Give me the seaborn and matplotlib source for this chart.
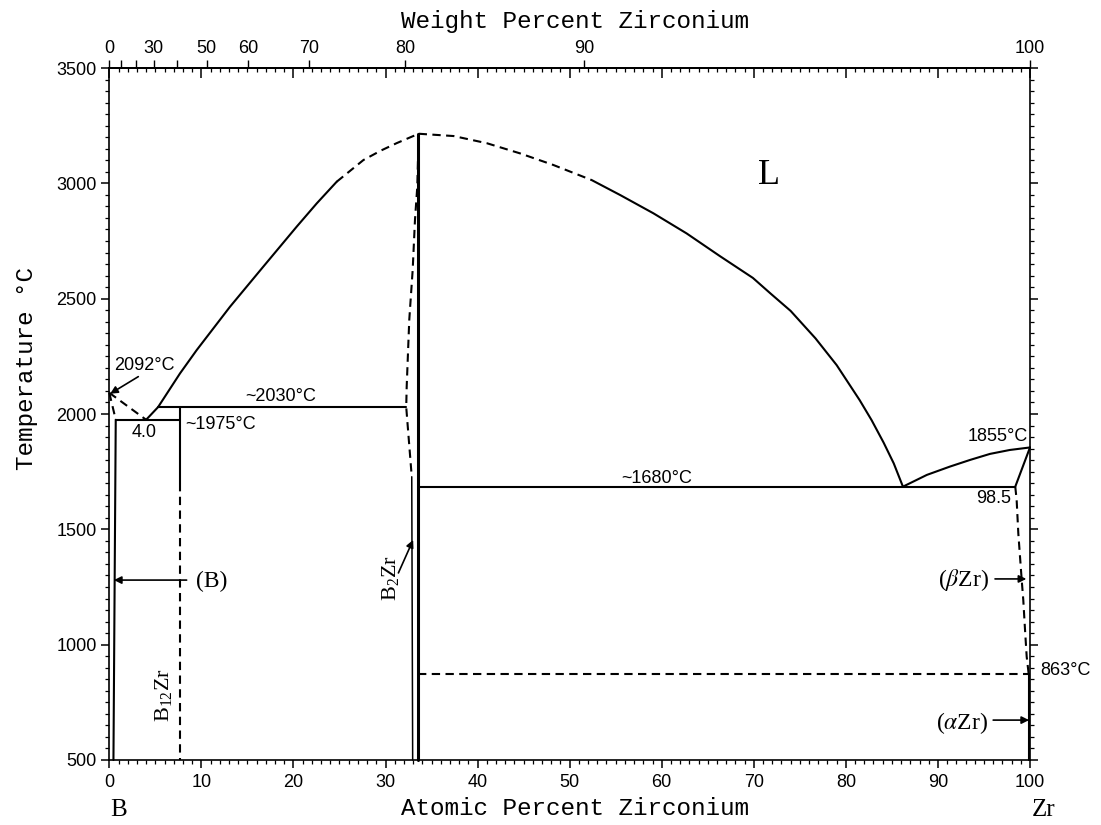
import numpy as np
import matplotlib
matplotlib.use("Agg")
import matplotlib.pyplot as plt
from matplotlib.ticker import MultipleLocator, NullFormatter
import seaborn as sns

# ---------------- data (x = at.% Zr, T = deg C) ----------------
M_B, M_ZR = 10.811, 91.224

wt_ticks = [0, 10, 20, 30, 40, 50, 60, 70, 80, 90, 100]
wt_labels = ["0", "", "", "30", "", "50", "60", "70", "80", "90", "100"]
y_ticks = [500, 1000, 1500, 2000, 2500, 3000, 3500]
x_ticks = [0, 10, 20, 30, 40, 50, 60, 70, 80, 90, 100]

# B-rich side
liqB_x = [0.0, 4.0];            liqB_T = [2092, 1975]          # dashed
solB_x = [0.0, 0.7];            solB_T = [2092, 1975]          # dashed
solvB_x = [0.7, 0.45];          solvB_T = [1975, 500]
eut1_x = [0.7, 7.69];           eut1_T = [1975, 1975]
peri_x = [5.3, 32.25];          peri_T = [2030, 2030]
b12_solid_x = [7.69, 7.69];     b12_solid_T = [2030, 1700]
b12_dash_x = [7.69, 7.69];      b12_dash_T = [1700, 500]

# liquidus, B side of B2Zr
liq1_x = [4.0, 5.3, 7.68, 9.49, 13.11, 16.73, 20.35, 22.53, 24.7]
liq1_T = [1975, 2030, 2176, 2277, 2465, 2639, 2812, 2913, 3007]
liq1d_x = [24.7, 27.6, 29.5, 31.2, 33.6]
liq1d_T = [3007, 3101, 3142, 3174, 3215]

# liquidus, Zr side of B2Zr
liq2d_x = [33.6, 37.4, 41.0, 44.6, 48.2, 52.4]
liq2d_T = [3215, 3205, 3174, 3130, 3080, 3014]
liq2_x = [52.4, 55.5, 59.1, 62.7, 66.3, 69.9, 71.8, 74.0, 76.7, 79.0,
          81.5, 82.8, 84.1, 85.2, 86.2]
liq2_T = [3014, 2949, 2870, 2783, 2685, 2590, 2523, 2447, 2328, 2212,
          2060, 1973, 1876, 1786, 1685]

# B2Zr boundaries
b2l_dash_x = [33.6, 33.45, 33.2, 32.95, 32.58, 32.3, 32.25, 32.85]
b2l_dash_T = [3215, 2985, 2841, 2624, 2408, 2118, 2030, 1728]
b2l_x = [32.85, 32.95];         b2l_T = [1728, 500]
b2r_x = [33.55, 33.55];         b2r_T = [3215, 500]

# Zr-rich side
eut2_x = [33.55, 98.4];         eut2_T = [1685, 1685]
liqZr_x = [86.2, 88.8, 91.3, 93.5, 95.65, 97.8, 100.0]
liqZr_T = [1685, 1736, 1772, 1801, 1827, 1844, 1855]
solZr_x = [100.0, 98.4];        solZr_T = [1855, 1685]
solvZr_x = [98.4, 98.55, 98.73, 99.1, 99.27, 99.46, 99.64, 99.85]
solvZr_T = [1685, 1627, 1483, 1280, 1194, 1064, 948, 875]
eutd_x = [33.55, 100.0];        eutd_T = [875, 875]
aZr_x = [99.92, 99.92];         aZr_T = [875, 500]

# ---------------- styling ----------------
sns.set_theme(style="white")
plt.rcParams["font.family"] = ["Liberation Sans", "DejaVu Sans"]
plt.rcParams["mathtext.fontset"] = "stix"
plt.rcParams["mathtext.default"] = "regular"

W, H = 1101, 825
fig = plt.figure(figsize=(W / 100, H / 100), dpi=100)
x0, x1, ytop, ybot = 109.3, 1030.0, 68.0, 760.0
ax = fig.add_axes([x0 / W, 1 - ybot / H, (x1 - x0) / W, (ybot - ytop) / H])
ax.set_xlim(0, 100)
ax.set_ylim(500, 3500)

DASH = (0, (4, 2.6))


def seg(x, y, dashed=False, lw=1.5):
    sns.lineplot(x=x, y=y, ax=ax, color="black", lw=lw, sort=False,
                 estimator=None, legend=False,
                 linestyle=DASH if dashed else "-", clip_on=False)


seg(liqB_x, liqB_T, True)
seg(solB_x, solB_T, True)
seg(solvB_x, solvB_T)
seg(eut1_x, eut1_T)
seg(peri_x, peri_T)
seg(b12_solid_x, b12_solid_T)
seg(b12_dash_x, b12_dash_T, True)
seg(liq1_x, liq1_T)
seg(liq1d_x, liq1d_T, True)
seg(liq2d_x, liq2d_T, True)
seg(liq2_x, liq2_T)
seg(b2l_dash_x, b2l_dash_T, True)
seg(b2l_x, b2l_T, lw=1.1)
seg(b2r_x, b2r_T, lw=2.2)
seg(eut2_x, eut2_T)
seg(liqZr_x, liqZr_T)
seg(solZr_x, solZr_T)
seg(solvZr_x, solvZr_T, True)
seg(eutd_x, eutd_T, True)
seg(aZr_x, aZr_T)

# ---------------- axes / ticks ----------------
for s in ax.spines.values():
    s.set_color("black")
    s.set_linewidth(1.2)

ax.set_xticks(x_ticks)
ax.set_yticks(y_ticks)
ax.xaxis.set_minor_locator(MultipleLocator(1))
ax.yaxis.set_minor_locator(MultipleLocator(50))
ax.tick_params(axis="both", which="major", direction="out", length=6, width=1.1,
               color="black", labelsize=13, labelcolor="black",
               left=True, right=True, bottom=True, top=False, pad=3)
ax.tick_params(axis="both", which="minor", direction="out", length=3, width=0.9,
               color="black", left=True, right=True, bottom=True, top=False)
ax.tick_params(axis="x", pad=4)

# top: atomic-percent ticks pointing inward
sec_at = ax.secondary_xaxis("top")
sec_at.set_xticks(x_ticks)
sec_at.xaxis.set_minor_locator(MultipleLocator(1))
sec_at.xaxis.set_major_formatter(NullFormatter())
sec_at.tick_params(which="major", direction="in", length=7, width=1.1, color="black")
sec_at.tick_params(which="minor", direction="in", length=3, width=0.9, color="black")
sec_at.spines["top"].set_linewidth(1.2)
sec_at.spines["top"].set_color("black")


def at2wt(x):
    x = np.asarray(x, dtype=float)
    den = x * M_ZR + (100 - x) * M_B
    with np.errstate(divide="ignore", invalid="ignore"):
        return np.where(den != 0, 100 * x * M_ZR / den, 0.0)


def wt2at(w):
    w = np.asarray(w, dtype=float)
    a = w / M_ZR
    b = (100 - w) / M_B
    with np.errstate(divide="ignore", invalid="ignore"):
        return np.where((a + b) != 0, 100 * a / (a + b), 0.0)


sec_wt = ax.secondary_xaxis("top", functions=(at2wt, wt2at))
sec_wt.set_xticks(wt_ticks, labels=wt_labels)
sec_wt.tick_params(which="major", direction="out", length=6, width=1.0,
                   color="black", labelsize=13, labelcolor="black", pad=2)
sec_wt.tick_params(which="minor", length=0)
sec_wt.spines["top"].set_linewidth(1.2)
sec_wt.spines["top"].set_color("black")

# ---------------- axis titles ----------------
LBL = dict(family=["Liberation Mono", "DejaVu Sans Mono"], fontsize=17.5, color="black")
fig.text(575 / W, 1 - 28 / H, "Weight Percent Zirconium", ha="center", va="baseline", **LBL)
fig.text(575 / W, 1 - 815 / H, "Atomic Percent Zirconium", ha="center", va="baseline", **LBL)
fig.text(27 / W, 1 - 368 / H, "Temperature °C", ha="center", va="center", rotation=90, **LBL)

SER = dict(family=["Liberation Serif", "DejaVu Serif"], color="black")
fig.text(118.3 / W, 1 - 816 / H, "B", ha="center", va="baseline", fontsize=18, **SER)
fig.text(1044 / W, 1 - 816 / H, "Zr", ha="center", va="baseline", fontsize=18, **SER)

# ---------------- annotations ----------------
NUM = dict(fontsize=13, color="black", family=["Liberation Sans", "DejaVu Sans"])
ax.text(3.77, 2212, "2092°C", ha="center", va="center", **NUM)
ax.text(18.6, 2074, "~2030°C", ha="center", va="center", **NUM)
ax.text(8.2, 1954, "~1975°C", ha="left", va="center", **NUM)
ax.text(3.77, 1918, "4.0", ha="center", va="center", **NUM)
ax.text(59.5, 1722, "~1680°C", ha="center", va="center", **NUM)
ax.text(96.5, 1902, "1855°C", ha="center", va="center", **NUM)
ax.text(96.1, 1635, "98.5", ha="center", va="center", **NUM)
ax.text(103.9, 887, "863°C", ha="center", va="center", clip_on=False, **NUM)

ax.text(71.7, 3032, "L", ha="center", va="center", fontsize=26, **SER)
ax.text(11.1, 1272, "(B)", ha="center", va="center", fontsize=17, **SER)
ax.text(92.8, 1280, "($\\mathit{\\beta}$Zr)", ha="center", va="center", fontsize=17, **SER)
ax.text(92.6, 660, "($\\mathit{\\alpha}$Zr)", ha="center", va="center", fontsize=17, **SER)
ax.text(5.85, 782, "B$_{12}$Zr", ha="center", va="center", rotation=90, fontsize=16, **SER)
ax.text(30.5, 1289, "B$_{2}$Zr", ha="center", va="center", rotation=90, fontsize=16, **SER)

ARW = dict(arrowstyle="-|>", color="black", lw=1.2, mutation_scale=11,
           shrinkA=0, shrinkB=0)
ax.annotate("", xy=(0.1, 2088), xytext=(3.15, 2162), arrowprops=ARW)
ax.annotate("", xy=(0.5, 1280), xytext=(8.4, 1280), arrowprops=ARW)
ax.annotate("", xy=(99.6, 1285), xytext=(96.2, 1285), arrowprops=ARW)
ax.annotate("", xy=(99.9, 673), xytext=(96.0, 673), arrowprops=ARW)
ax.annotate("", xy=(33.0, 1454), xytext=(31.4, 1311), arrowprops=ARW)

ax.set_xlabel("")
ax.set_ylabel("")
fig.savefig("out.png", dpi=100)
